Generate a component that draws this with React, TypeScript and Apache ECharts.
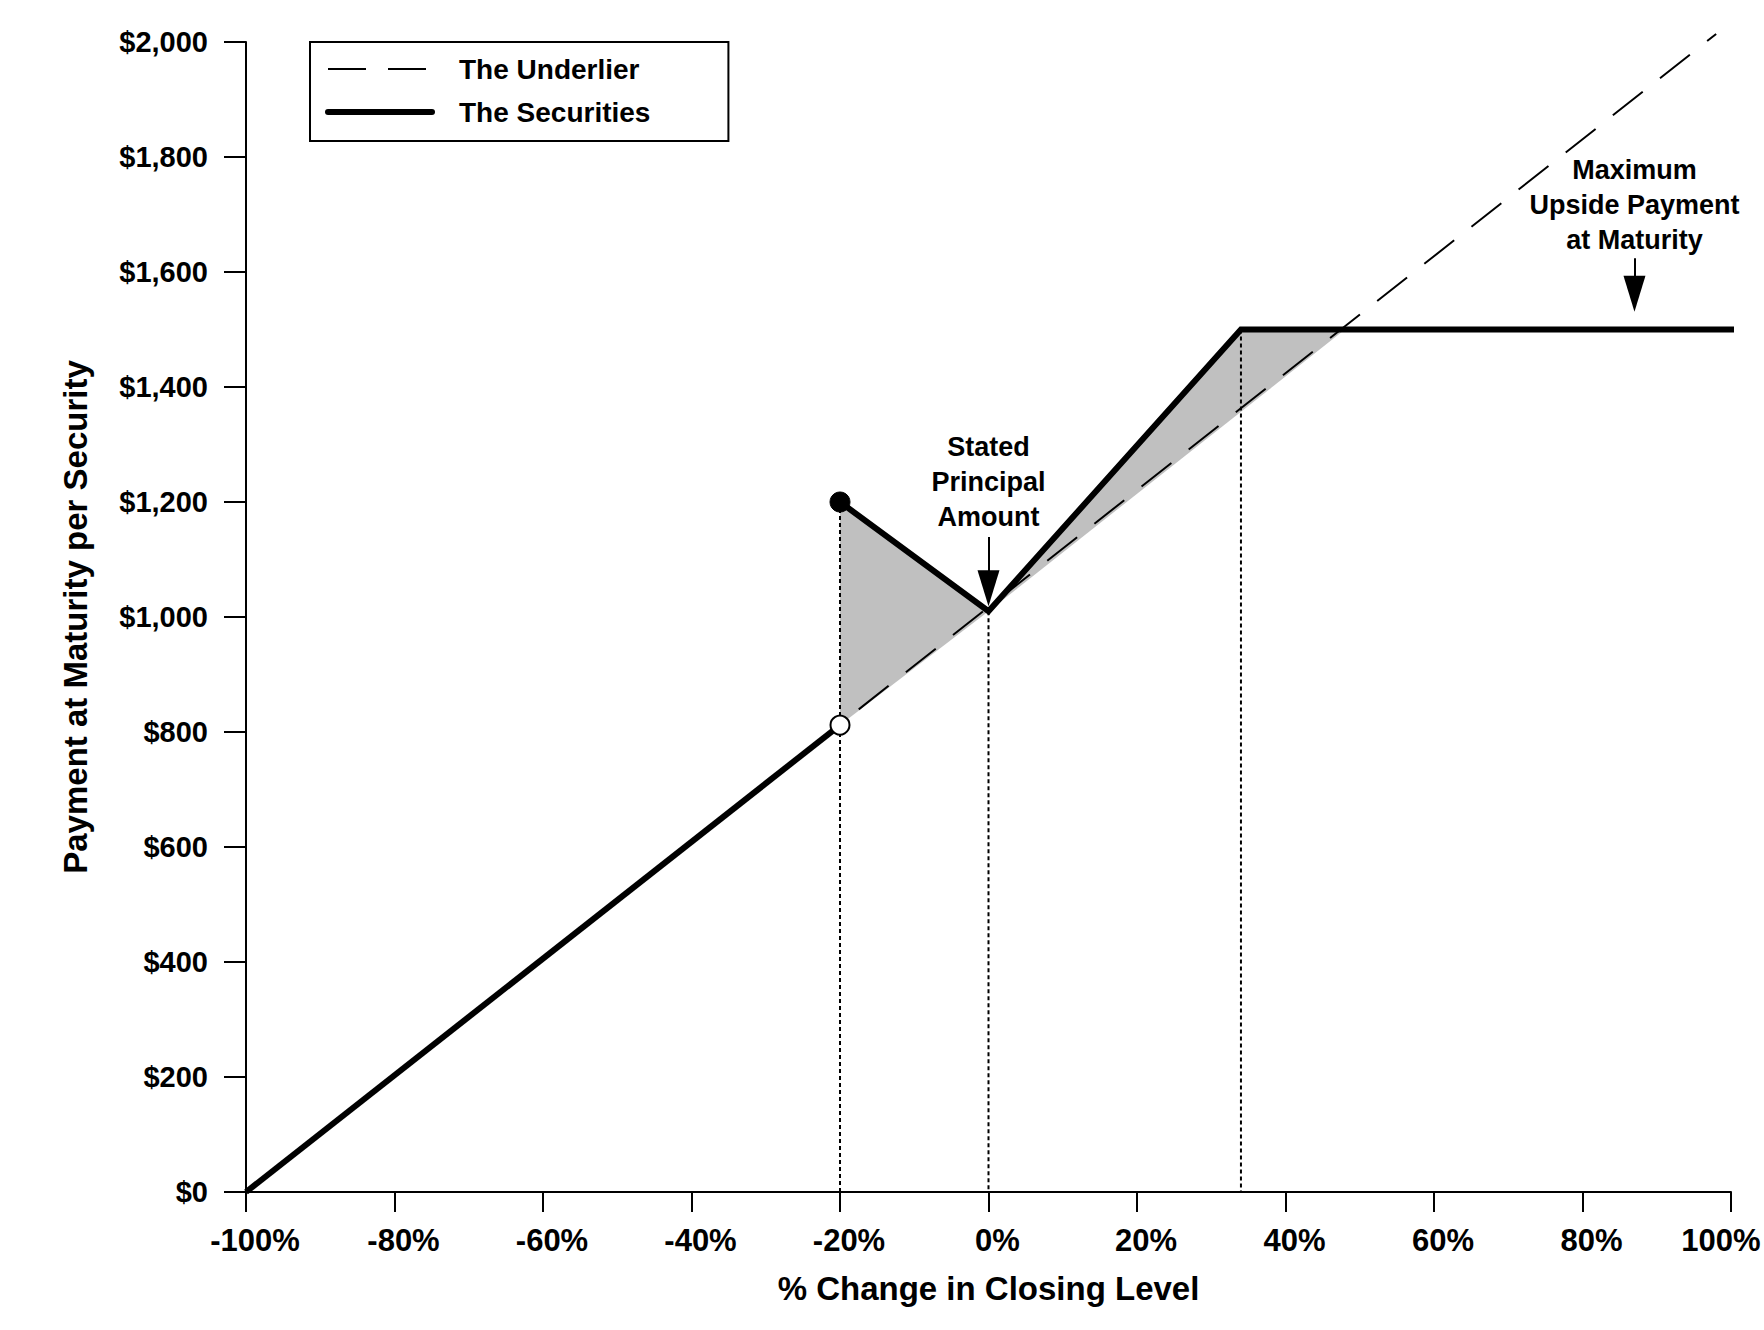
import React, { useEffect, useRef } from "react";
import * as echarts from "echarts";

const FONT = "'Liberation Sans', Arial, Helvetica, sans-serif";

// Axis ranges (percent change, payment in $)
const X_RANGE = [-100, 100];
const X_STEP = 20;
const Y_RANGE = [0, 2000];
const Y_STEP = 200;

// The Underlier: 1:1 participation (as drawn)
const UNDERLIER: number[][] = [
  [-100, 0],
  [98, 2014],
];

// The Securities payoff
const SECURITIES_LOWER: number[][] = [
  [-100, 0],
  [-20, 812],
];
const SECURITIES_UPPER: number[][] = [
  [-20, 1200],
  [0, 1010],
  [34, 1500],
  [102, 1500],
];

// Shaded regions between the Securities and the Underlier
const SHADED: number[][][] = [
  [
    [-20, 812],
    [-20, 1200],
    [0, 1010],
  ],
  [
    [0, 1010],
    [34, 1500],
    [48, 1500],
  ],
];

// Dotted guide lines (top point; each runs down to $0)
const GUIDES: number[][] = [
  [-20, 1200],
  [0, 1010],
  [34, 1500],
];

const CLOSED_DOT: number[][] = [[-20, 1200]];
const OPEN_DOT: number[][] = [[-20, 812]];

// Annotation labels and arrows
const ANNOTATION_POS: number[][] = [
  [0, 1235],
  [87, 1717],
];
const ANNOTATION_TEXT: string[] = [
  "Stated\nPrincipal\nAmount",
  "Maximum\nUpside Payment\nat Maturity",
];
const ARROWS: number[][][] = [
  [
    [0, 1139],
    [0, 1050],
  ],
  [
    [87, 1624],
    [87, 1562],
  ],
];

const LEGEND_NAMES = ["The Underlier", "The Securities"];

function fmtDollar(v: number): string {
  return "$" + String(v).replace(/\B(?=(\d{3})+(?!\d))/g, ",");
}

const XLABEL_FONT = { fontSize: 31, fontWeight: "bold", color: "#000", fontFamily: FONT };

export default function App() {
  const ref = useRef<HTMLDivElement>(null);

  useEffect(() => {
    document.body.style.margin = "0";
    if (!ref.current) return;
    const chart = echarts.init(ref.current, undefined, { renderer: "svg" });

    const guideSeries = GUIDES.map((g) => ({
      type: "line",
      data: [g, [g[0], 0]],
      symbol: "none",
      silent: true,
      lineStyle: { color: "#000", width: 2, type: [4, 3] },
      z: 3,
    }));

    const option: any = {
      animation: false,
      backgroundColor: "#fff",
      textStyle: { fontFamily: FONT },
      grid: { left: 246, right: 33, top: 42, bottom: 138, containLabel: false, outerBoundsMode: "none" },
      legend: {
        orient: "vertical",
        left: 310,
        top: 42,
        itemWidth: 104,
        itemHeight: 14,
        itemGap: 13,
        padding: [12, 78, 14, 15],
        borderColor: "#000",
        borderWidth: 2,
        selectedMode: false,
        itemStyle: { color: "rgba(0,0,0,0)", borderWidth: 0, opacity: 0 },
        textStyle: {
          fontSize: 28,
          fontWeight: "bold",
          color: "#000",
          fontFamily: FONT,
          lineHeight: 30,
          padding: [0, 0, 0, 22],
        },
        data: [
          { name: LEGEND_NAMES[0], lineStyle: { width: 2, color: "#000", type: [38, 22] } },
          { name: LEGEND_NAMES[1], lineStyle: { width: 6, color: "#000", cap: "round" } },
        ],
      },
      xAxis: {
        type: "value",
        min: X_RANGE[0],
        max: X_RANGE[1],
        interval: X_STEP,
        name: "% Change in Closing Level",
        nameLocation: "middle",
        nameGap: 80,
        nameTextStyle: { fontSize: 33, fontWeight: "bold", color: "#000", fontFamily: FONT },
        splitLine: { show: false },
        axisLine: { show: true, onZero: false, lineStyle: { color: "#000", width: 2 } },
        axisTick: { show: true, inside: false, length: 20, lineStyle: { color: "#000", width: 2 } },
        axisLabel: {
          margin: 33,
          ...XLABEL_FONT,
          formatter: (v: number) => (v === X_RANGE[1] ? "{last|" + v + "%}" : "{n|" + v + "%}"),
          rich: {
            n: { ...XLABEL_FONT, padding: [0, 0, 0, 18] },
            last: { ...XLABEL_FONT, padding: [0, 20, 0, 0] },
          },
        },
      },
      yAxis: {
        type: "value",
        min: Y_RANGE[0],
        max: Y_RANGE[1],
        interval: Y_STEP,
        name: "Payment at Maturity per Security",
        nameLocation: "middle",
        nameGap: 154,
        nameTextStyle: { fontSize: 33, fontWeight: "bold", color: "#000", fontFamily: FONT },
        splitLine: { show: false },
        axisLine: { show: true, onZero: false, lineStyle: { color: "#000", width: 2 } },
        axisTick: { show: true, inside: false, length: 22, lineStyle: { color: "#000", width: 2 } },
        axisLabel: {
          margin: 38,
          fontSize: 29,
          fontWeight: "bold",
          color: "#000",
          fontFamily: FONT,
          formatter: (v: number) => fmtDollar(v),
        },
      },
      series: [
        {
          type: "custom",
          name: "shade",
          silent: true,
          z: 1,
          data: SHADED.map((p) => p[0]),
          renderItem: (params: any, api: any) => {
            const poly = SHADED[params.dataIndex];
            return {
              type: "polygon",
              shape: { points: poly.map((pt) => api.coord(pt)) },
              style: { fill: "#c0c0c0", stroke: "none" },
            };
          },
        },
        ...guideSeries,
        {
          type: "line",
          name: "The Underlier",
          data: UNDERLIER,
          symbol: "none",
          silent: true,
          clip: false,
          z: 4,
          lineStyle: { color: "#000", width: 2, type: [38, 22] },
          itemStyle: { color: "#000" },
        },
        {
          type: "line",
          name: "The Securities",
          data: SECURITIES_LOWER,
          symbol: "none",
          silent: true,
          z: 5,
          lineStyle: { color: "#000", width: 6, join: "miter" },
          itemStyle: { color: "#000" },
        },
        {
          type: "line",
          name: "The Securities",
          data: SECURITIES_UPPER,
          symbol: "none",
          silent: true,
          clip: false,
          z: 5,
          lineStyle: { color: "#000", width: 6, join: "miter", cap: "round" },
          itemStyle: { color: "#000" },
        },
        {
          type: "scatter",
          name: "closed",
          data: CLOSED_DOT,
          symbol: "circle",
          symbolSize: 20,
          silent: true,
          z: 6,
          itemStyle: { color: "#000", borderColor: "#000", borderWidth: 1, opacity: 1 },
        },
        {
          type: "scatter",
          name: "open",
          data: OPEN_DOT,
          symbol: "circle",
          symbolSize: 19,
          silent: true,
          z: 6,
          itemStyle: { color: "#fff", borderColor: "#000", borderWidth: 2, opacity: 1 },
        },
        {
          type: "scatter",
          name: "annotations",
          data: ANNOTATION_POS.map((p, i) => ({ value: p, label: { formatter: ANNOTATION_TEXT[i] } })),
          symbolSize: 0,
          silent: true,
          z: 7,
          itemStyle: { opacity: 1, color: "#000" },
          label: {
            show: true,
            position: "inside",
            align: "center",
            verticalAlign: "middle",
            fontSize: 27,
            fontWeight: "bold",
            color: "#000",
            textBorderWidth: 0,
            textBorderColor: "transparent",
            fontFamily: FONT,
            lineHeight: 35,
          },
          markLine: {
            silent: true,
            symbol: ["none", "triangle"],
            symbolSize: [22, 36],
            label: { show: false },
            lineStyle: { color: "#000", width: 2, type: "solid", opacity: 1 },
            itemStyle: { color: "#000" },
            data: ARROWS.map(([a, b]) => [{ coord: a }, { coord: b }]),
          },
        },
      ],
    };

    chart.setOption(option);
    return () => chart.dispose();
  }, []);

  return <div ref={ref} style={{ width: 1764, height: 1330 }} />;
}
